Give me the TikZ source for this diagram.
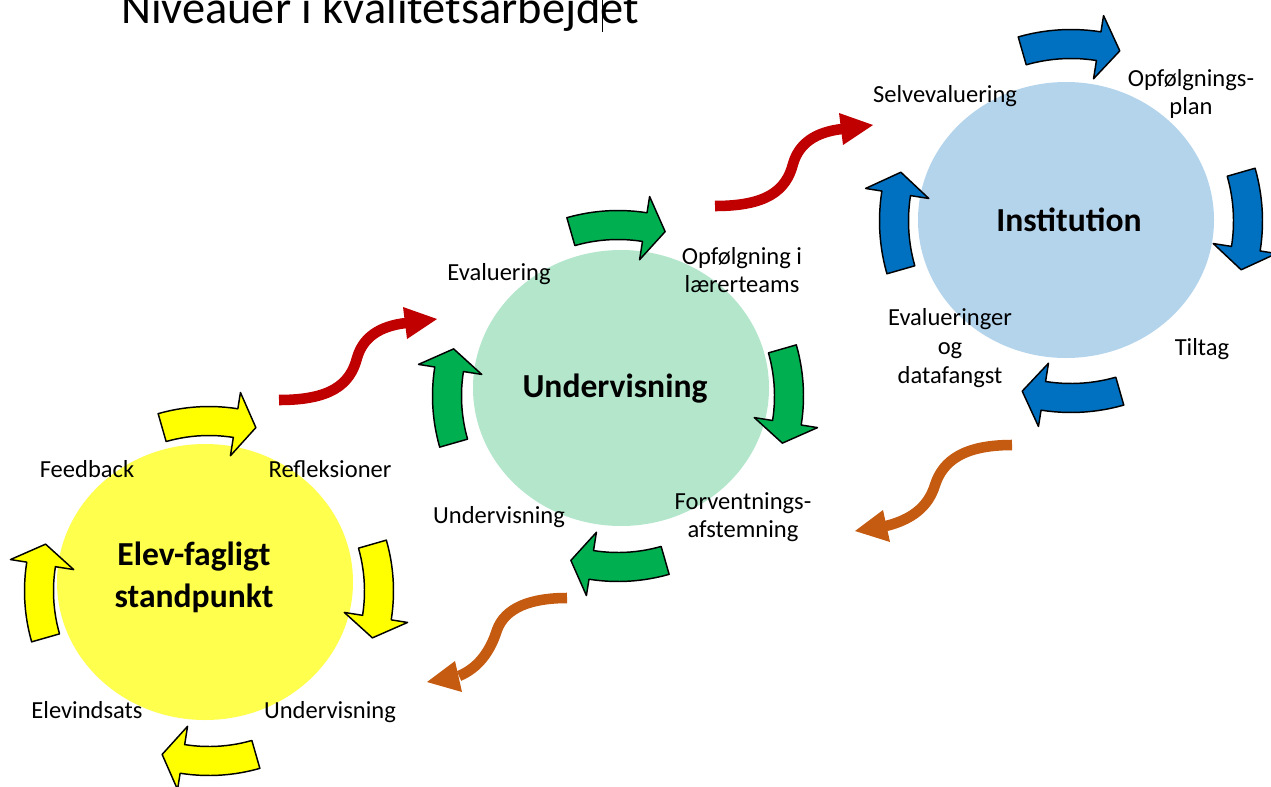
\documentclass[tikz,border=0pt]{standalone}
\usepackage{fontspec}
\setmainfont{Carlito}
\usetikzlibrary{shapes.geometric}

\definecolor{elevfill}{RGB}{255,255,77}
\definecolor{undfill}{RGB}{179,230,203}
\definecolor{instfill}{RGB}{180,212,236}
\definecolor{ringyellow}{RGB}{255,255,0}
\definecolor{ringgreen}{RGB}{0,176,80}
\definecolor{ringblue}{RGB}{0,112,192}
\definecolor{waveup}{RGB}{192,0,0}
\definecolor{wavedown}{RGB}{197,90,17}

% one bent block arrow of a cycle: centre x, centre y, radius, mid angle, colour
\newcommand{\ringarrow}[5]{%
  \begin{scope}[shift={(#1,#2)}]
    \filldraw[blockarrow, fill=#5]
      plot[domain=#4-16:#4+9, samples=14] ({\x}:{#3+14.5})
      -- ({#4+9}:{#3+31}) -- ({#4+16}:{#3}) -- ({#4+9}:{#3-33})
      -- plot[domain=#4+9:#4-16, samples=14] ({\x}:{#3-14.5}) -- cycle;
  \end{scope}}

\begin{document}
\begin{tikzpicture}[x=0.75pt, y=-0.75pt,
  blockarrow/.style={draw=black, line width=1.1pt, line join=round},
  hub/.style={ellipse, inner sep=0pt, minimum width=222pt, minimum height=207pt},
  lbl/.style={font=\fontsize{18.4}{20.5}\selectfont, align=center, inner sep=0pt, anchor=base},
  hubtxt/.style={font=\fontsize{25.2}{31.5}\selectfont\bfseries, align=center, inner sep=0pt, anchor=base},
  wave/.style={line width=7.9pt}]
  \useasboundingbox (0,0) rectangle (1271,786);
  \clip (0,0) rectangle (1271,786);

  % title, cut off at the top
  \node[font=\fontsize{34.8}{40}\selectfont, anchor=base, inner sep=0pt] (title) at (380,23) {Niveauer i kvalitetsarbejdet};
  \draw[line width=0.6pt] (602,0) -- (602,32);

  % the three levels
  \node[hub, fill=elevfill] (elev) at (205,582) {};
  \node[hub, fill=undfill] (und) at (621,388) {};
  \node[hub, fill=instfill] (inst) at (1066,220) {};

  % cycles round each level
  \foreach \a in {-90,0,90,180} {
    \ringarrow{209}{591}{170}{\a}{ringyellow}
    \ringarrow{618}{396}{171}{\a}{ringgreen}
    \ringarrow{1071}{221}{177}{\a}{ringblue}
  }

  % upwards, from level to level
  \coordinate (up1) at (279,400);
  \coordinate (up2) at (715,206);
  \draw[wave, waveup] (up1) .. controls (330,400) and (350,385) .. (357,358)
    .. controls (363,337) and (380,326) .. (406,323);
  \fill[waveup] (403,307) -- (437,319) -- (407,339) -- cycle;
  \draw[wave, waveup] (up2) .. controls (766,206) and (786,191) .. (793,164)
    .. controls (799,143) and (816,132) .. (842,129);
  \fill[waveup] (839,113) -- (873,125) -- (843,145) -- cycle;

  % downwards again
  \coordinate (down1) at (1012,445);
  \coordinate (down2) at (567,598);
  \draw[wave, wavedown] (down1) .. controls (965,445) and (943,460) .. (935,485)
    .. controls (928,508) and (910,520) .. (886,526);
  \fill[wavedown] (883,510) -- (855,531) -- (890,542) -- cycle;
  \draw[wave, wavedown] (down2) .. controls (530,598) and (505,608) .. (497,630)
    .. controls (490,652) and (478,668) .. (459,676);
  \fill[wavedown] (455,661) -- (427,682) -- (462,692) -- cycle;

  % Elev-fagligt standpunkt (base = last line)
  \node[hubtxt] (elevtxt) at (194,607) {Elev-fagligt\\standpunkt};
  \node[lbl] (feedback) at (87,477) {Feedback};
  \node[lbl] (refl) at (330,477) {Refleksioner};
  \node[lbl] (indsats) at (87,718) {Elevindsats};
  \node[lbl] (elevund) at (330,718) {Undervisning};

  % Undervisning
  \node[hubtxt] (undtxt) at (615,397) {Undervisning};
  \node[lbl] (evalu) at (499,280) {Evaluering};
  \node[lbl] (teams) at (742,292) {Opfølgning i\\lærerteams};
  \node[lbl] (forv) at (743,537) {Forventnings-\\afstemning};
  \node[lbl] (undund) at (499,523) {Undervisning};

  % Institution
  \node[hubtxt] (insttxt) at (1069,231) {Institution};
  \node[lbl] (selv) at (945,102) {Selvevaluering};
  \node[lbl] (plan) at (1191,114) {Opfølgnings-\\plan};
  \node[lbl, font=\fontsize{18.4}{21.5}\selectfont] (data) at (950,383) {Evalueringer\\og\\datafangst};
  \node[lbl] (tiltag) at (1202,355) {Tiltag};
\end{tikzpicture}
\end{document}
